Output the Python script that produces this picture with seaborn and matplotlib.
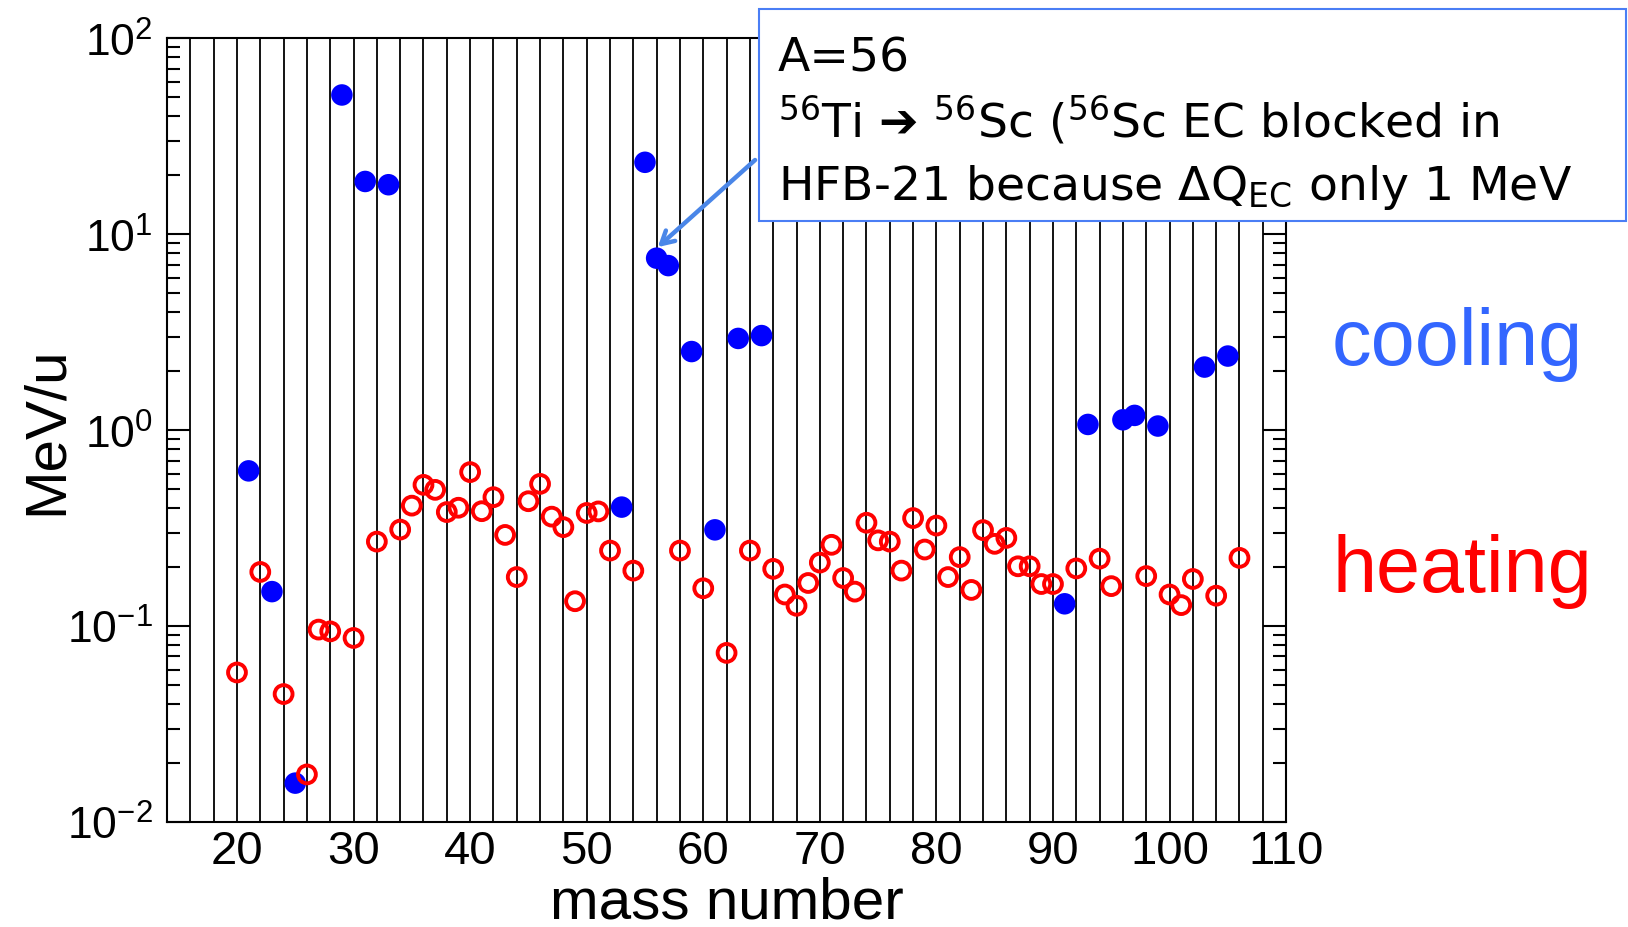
import matplotlib
matplotlib.use("Agg")
import matplotlib.pyplot as plt
import matplotlib.patches as patches
from matplotlib.ticker import MultipleLocator, LogLocator, NullFormatter
import seaborn as sns

# cooling (filled blue) and heating (open red) per mass number, MeV/u
cool_A = [21, 23, 25, 29, 31, 33, 53, 55, 56, 57, 59, 61, 63, 65,
          91, 93, 96, 97, 99, 103, 105]
cool_E = [0.62, 0.150, 0.0158, 51.4, 18.6, 17.9, 0.405, 23.3, 7.55, 6.92, 2.52, 0.310, 2.94, 3.04,
          0.130, 1.07, 1.13, 1.19, 1.05, 2.10, 2.39]

heat_A = [20, 22, 24, 26, 27, 28, 30, 32, 34, 35,
          36, 37, 38, 39, 40, 41, 42, 43, 44, 45,
          46, 47, 48, 49, 50, 51, 52, 54, 58, 60,
          62, 64, 66, 67, 68, 69, 70, 71, 72, 73,
          74, 75, 76, 77, 78, 79, 80, 81, 82, 83,
          84, 85, 86, 87, 88, 89, 90, 92, 94, 95,
          98, 100, 101, 102, 104, 106]
heat_E = [0.058, 0.189, 0.045, 0.0175, 0.096, 0.094, 0.087, 0.270, 0.311, 0.412,
          0.526, 0.496, 0.382, 0.402, 0.611, 0.386, 0.455, 0.292, 0.178, 0.434,
          0.532, 0.362, 0.320, 0.134, 0.378, 0.385, 0.243, 0.192, 0.243, 0.156,
          0.073, 0.243, 0.196, 0.145, 0.127, 0.166, 0.211, 0.260, 0.176, 0.150,
          0.337, 0.274, 0.270, 0.192, 0.356, 0.246, 0.326, 0.178, 0.225, 0.153,
          0.309, 0.263, 0.282, 0.202, 0.202, 0.164, 0.164, 0.197, 0.221, 0.160,
          0.180, 0.145, 0.128, 0.174, 0.143, 0.223]

sns.set_style("white")
plt.rcParams['font.family'] = ['Liberation Sans', 'DejaVu Sans']
plt.rcParams['text.color'] = 'black'
plt.rcParams['axes.labelcolor'] = 'black'
plt.rcParams['xtick.color'] = 'black'
plt.rcParams['ytick.color'] = 'black'
plt.rcParams['axes.unicode_minus'] = False

fig = plt.figure(figsize=(16.28, 9.28), dpi=100)
ax = fig.add_axes([0.1026, 0.1131, 0.6874, 0.8445])

sns.scatterplot(x=cool_A, y=cool_E, ax=ax, color='#0000ff', s=240,
                edgecolor='none', linewidth=0, zorder=3)
sns.scatterplot(x=heat_A, y=heat_E, ax=ax, marker='o', facecolor='none',
                edgecolor='#ff0000', linewidth=2.8, s=165, zorder=4)

ax.set_yscale('log')
ax.set_ylim(1e-2, 1e2)
ax.set_xlim(14, 110)

ax.xaxis.set_major_locator(MultipleLocator(10))
ax.xaxis.set_minor_locator(MultipleLocator(2))
ax.yaxis.set_minor_locator(LogLocator(base=10, subs=range(2, 10)))
ax.yaxis.set_minor_formatter(NullFormatter())
ax.set_axisbelow(True)
ax.grid(axis='x', which='both', color='black', linewidth=1.3)
ax.grid(axis='y', which='both', visible=False)

ax.tick_params(axis='x', which='both', length=0, labelsize=34, pad=5)
ax.tick_params(axis='y', which='major', direction='in', length=16.5, width=1.5,
               left=True, right=True, labelsize=32, pad=10)
ax.tick_params(axis='y', which='minor', direction='in', length=9.4, width=1.5,
               left=True, right=True)
for sp in ax.spines.values():
    sp.set_color('black')
    sp.set_linewidth(1.5)

ax.set_xlabel('mass number', fontsize=42)
ax.xaxis.set_label_coords(0.5, -0.068)
ax.set_ylabel('MeV/u', fontsize=42)
ax.yaxis.set_label_coords(-0.083, 0.5)

# annotation box
box_col = '#4a7ef5'
fig.add_artist(patches.Rectangle((0.4662, 0.7608), 0.5326, 0.2284,
                                 transform=fig.transFigure, facecolor='white',
                                 edgecolor=box_col, linewidth=1.5, zorder=10))
txt_kw = dict(fontsize=34, family='DejaVu Sans', va='baseline', ha='left',
              color='black', zorder=11)
fig.text(0.4779, 0.9227, 'A=56', **txt_kw)
fig.text(0.4779, 0.8524, r'$^{56}$Ti ➔ $^{56}$Sc ($^{56}$Sc EC blocked in', **txt_kw)
fig.text(0.4779, 0.7845, r'HFB-21 because ΔQ$_{\mathrm{EC}}$ only 1 MeV', **txt_kw)

ax.annotate('', xy=(56.1, 8.6), xycoords='data',
            xytext=(0.4638, 0.8265), textcoords='figure fraction',
            arrowprops=dict(arrowstyle='->,head_length=0.9,head_width=0.5',
                            color='#4a86e8', lw=3.2, shrinkA=0, shrinkB=0),
            zorder=9)

fig.text(0.8182, 0.6067, 'cooling', color='#3366ff', fontsize=57, va='baseline')
fig.text(0.8182, 0.3621, 'heating', color='#ff0000', fontsize=57, va='baseline')

fig.savefig('out.png', dpi=100)
